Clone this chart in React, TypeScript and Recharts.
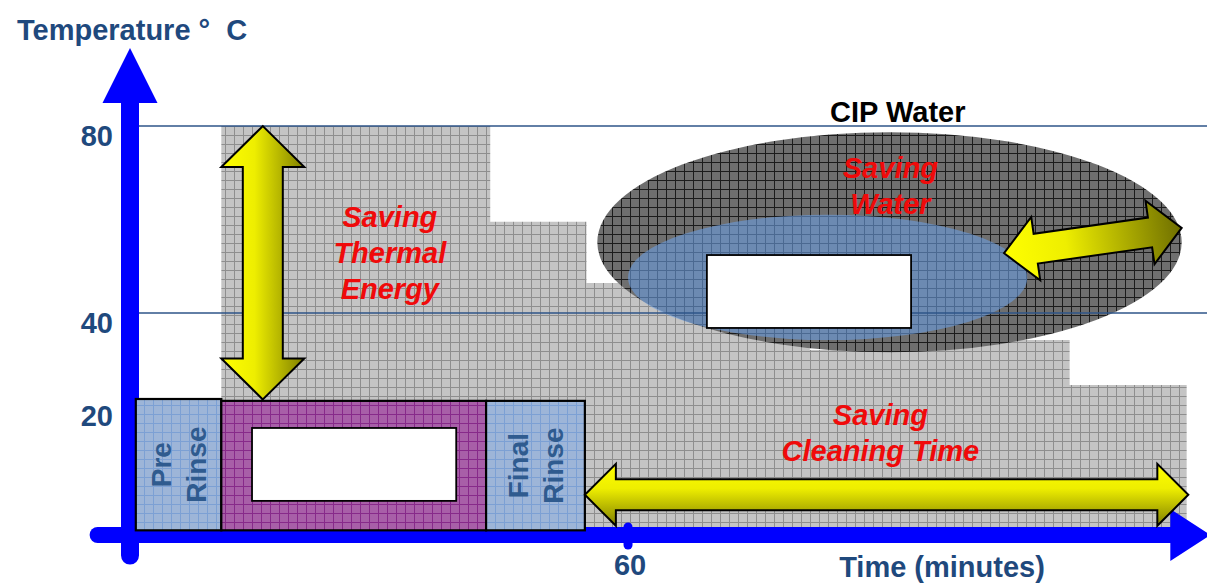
import {
  ComposedChart,
  Area,
  XAxis,
  YAxis,
  ReferenceLine,
  ReferenceArea,
  ReferenceDot,
} from 'recharts';

const FONT = '"Liberation Sans", Arial, sans-serif';
const NAVY = '#1f497d';
const RED = '#f00a0a';

// conventional CIP profile: start minute of each step and its temperature
const stepTimes = [11, 43.4, 55, 81.9, 92.5, 113.2, 127.3];
const stepTemps = [80, 59.5, 46.4, 32.1, 34.2, 24.6, 24.6];

const xTicks = [60];
const yTicks = [20, 40, 80];
const gridTemps = [80, 40];

const xDomain: [number, number] = [0, 129.75];
const yDomain: [number, number] = [-7.5, 96.7];
const baseTemp = -6.5;

// optimised cycle phases
const phaseLabels = [['Pre', 'Rinse'], [], ['Final', 'Rinse']];
const phaseStarts = [0.7, 11, 42.9];
const phaseEnds = [11, 42.9, 54.8];
const phaseTops = [21.6, 21.2, 21.2];
const phaseFills = ['url(#rinseGrid)', 'url(#washGrid)', 'url(#rinseGrid)'];

// empty caption boxes
const blankTimes = [[14.7, 39.3], [69.5, 94.1]];
const blankTemps = [[-0.2, 15.4], [36.8, 52.4]];

// water ellipses
const waterTimes = [56.3, 126.7];
const waterTemps = [31.6, 78.7];
const savedTimes = [60, 108.1];
const savedTemps = [34.2, 61];

// arrows
const thermalTime = 16;
const thermalTemps = [21.5, 80];
const cleaningTimes = [54.8, 127.5];
const cleaningTemp = 1.1;
const waterArrowTimes = [105.3, 126.7];
const waterArrowTemps = [52.8, 58.2];

// red captions
const savingLines = [['Saving', 'Thermal', 'Energy'], ['Saving', 'Water'], ['Saving', 'Cleaning Time']];
const savingTimes = [31.3, 91.6, 90.4];
const savingTemps = [52.8, 67.1, 14.4];

const cipLabel = 'CIP Water';
const cipTime = 92.5;
const cipTemp = 83;

function DoubleArrow(p: any) {
  const { x1, y1, x2, y2, shaft, head, headLen, fill } = p;
  const len = Math.hypot(x2 - x1, y2 - y1);
  const ang = (Math.atan2(y2 - y1, x2 - x1) * 180) / Math.PI;
  const s = shaft / 2;
  const h = head / 2;
  const b = len - headLen;
  const pts = [
    [0, 0], [headLen, -h], [headLen, -s], [b, -s], [b, -h],
    [len, 0], [b, h], [b, s], [headLen, s], [headLen, h],
  ];
  return (
    <polygon
      points={pts.map((q) => q.join(',')).join(' ')}
      transform={`translate(${x1},${y1}) rotate(${ang})`}
      fill={fill}
      stroke="#000"
      strokeWidth={2}
    />
  );
}

function AxisArrow(p: any) {
  const { x1, y1, x2, y2, shaft, head, headLen } = p;
  const len = Math.hypot(x2 - x1, y2 - y1);
  const ang = (Math.atan2(y2 - y1, x2 - x1) * 180) / Math.PI;
  const s = shaft / 2;
  const h = head / 2;
  const b = len - headLen;
  const pts = [[0, -s], [b, -s], [b, -h], [len, 0], [b, h], [b, s], [0, s]];
  return (
    <g transform={`translate(${x1},${y1}) rotate(${ang})`}>
      <circle cx={0} cy={0} r={s} fill="#0000ff" />
      <polygon points={pts.map((q) => q.join(',')).join(' ')} fill="#0000ff" />
    </g>
  );
}

function PhaseBox(p: any) {
  const { x, y, width, height, lines, pattern } = p;
  const cx = x + width / 2;
  const cy = y + height / 2;
  return (
    <g>
      <rect x={x} y={y} width={width} height={height} fill={pattern} stroke="#000" strokeWidth={2.2} />
      {lines.map((l: string, i: number) => {
        const tx = cx + (i - (lines.length - 1) / 2) * 35;
        return (
          <text
            key={l + i}
            x={tx}
            y={cy}
            dy="0.36em"
            transform={`rotate(-90 ${tx} ${cy})`}
            textAnchor="middle"
            fontFamily={FONT}
            fontSize={28}
            fontWeight="bold"
            fill="#2f5b8f"
          >
            {l}
          </text>
        );
      })}
    </g>
  );
}

const caption = (lines: string[], color: string, italic: boolean, lh: number) => (p: any) => (
  <text
    fontFamily={FONT}
    fontSize={29}
    fontWeight="bold"
    fontStyle={italic ? 'italic' : 'normal'}
    fill={color}
    textAnchor="middle"
  >
    {lines.map((l, i) => (
      <tspan key={l} x={p.cx} y={p.cy + (i - (lines.length - 1) / 2) * lh + 10}>
        {l}
      </tspan>
    ))}
  </text>
);

const YTick = (p: any) => (
  <text x={p.x - 9} y={p.y + 20} textAnchor="end" fontFamily={FONT} fontSize={29} fontWeight="bold" fill={NAVY}>
    {p.payload.value}
  </text>
);

const XTick = (p: any) => (
  <g>
    <line x1={p.x} x2={p.x} y1={p.y - 16} y2={p.y + 2} stroke="#0000ff" strokeWidth={9} strokeLinecap="round" />
    <text x={p.x + 2} y={p.y + 32} textAnchor="middle" fontFamily={FONT} fontSize={29} fontWeight="bold" fill={NAVY}>
      {p.payload.value}
    </text>
  </g>
);

function gridPattern(id: string, size: number, bg: string, line: string) {
  return (
    <pattern id={id} width={size} height={size} patternUnits="userSpaceOnUse">
      <rect width={size} height={size} fill={bg} />
      <path d={`M0 0.5H${size}M0.5 0V${size}`} stroke={line} strokeWidth={1} />
    </pattern>
  );
}

export default function App() {
  const data = stepTimes.map((time, i) => ({ time, temp: stepTemps[i] }));

  return (
    <div style={{ position: 'absolute', left: 0, top: 0, width: 1207, height: 584, background: '#fff', fontFamily: FONT }}>
      <ComposedChart width={1207} height={584} data={data} margin={{ top: 48, right: 0, bottom: 19, left: 70 }}>
        <defs>
          {gridPattern('cipGrid', 9, '#c4c4c4', '#8e8e8e')}
          {gridPattern('waterGrid', 9, '#6f6f6f', '#1c1c1c')}
          {gridPattern('rinseGrid', 9, '#9db5d8', '#7ca0d4')}
          {gridPattern('washGrid', 9, '#a85fa8', '#872a8a')}
          <linearGradient id="yellowAcross" x1="0" y1="0" x2="0" y2="1">
            <stop offset="0" stopColor="#ffff00" />
            <stop offset="0.4" stopColor="#eeee00" />
            <stop offset="1" stopColor="#7f7f00" />
          </linearGradient>
          <linearGradient id="yellowAlong" x1="0" y1="0" x2="1" y2="0">
            <stop offset="0" stopColor="#ffff00" />
            <stop offset="0.35" stopColor="#eeee00" />
            <stop offset="1" stopColor="#6e6e00" />
          </linearGradient>
        </defs>

        <XAxis
          dataKey="time"
          type="number"
          domain={xDomain}
          allowDataOverflow
          ticks={xTicks}
          height={30}
          axisLine={false}
          tickLine={false}
          tick={XTick}
        />
        <YAxis
          type="number"
          domain={yDomain}
          allowDataOverflow
          ticks={yTicks}
          width={60}
          axisLine={false}
          tickLine={false}
          tick={YTick}
        />

        <Area
          dataKey="temp"
          type="stepAfter"
          baseValue={baseTemp}
          fill="url(#cipGrid)"
          fillOpacity={1}
          stroke="none"
          dot={false}
          activeDot={false}
          isAnimationActive={false}
        />

        <ReferenceArea
          x1={waterTimes[0]}
          x2={waterTimes[1]}
          y1={waterTemps[0]}
          y2={waterTemps[1]}
          ifOverflow="visible"
          zIndex={110}
          shape={(p: any) => (
            <ellipse cx={p.x + p.width / 2} cy={p.y + p.height / 2} rx={p.width / 2} ry={p.height / 2} fill="url(#waterGrid)" />
          )}
        />
        <ReferenceArea
          x1={savedTimes[0]}
          x2={savedTimes[1]}
          y1={savedTemps[0]}
          y2={savedTemps[1]}
          ifOverflow="visible"
          zIndex={115}
          shape={(p: any) => (
            <ellipse
              cx={p.x + p.width / 2}
              cy={p.y + p.height / 2}
              rx={p.width / 2}
              ry={p.height / 2}
              fill="#6a9de0"
              fillOpacity={0.6}
            />
          )}
        />

        {gridTemps.map((t) => (
          <ReferenceLine key={t} y={t} stroke="#2e5488" strokeWidth={1.5} ifOverflow="visible" zIndex={120} />
        ))}

        <ReferenceLine
          segment={[{ x: xDomain[0], y: yDomain[0] - 4.4 }, { x: xDomain[0], y: yDomain[1] }]}
          ifOverflow="visible"
          zIndex={130}
          shape={(p: any) => <AxisArrow {...p} shaft={18} head={55} headLen={55} />}
        />
        <ReferenceLine
          segment={[{ x: xDomain[0] - 3.9, y: yDomain[0] }, { x: xDomain[1] + 0.4, y: yDomain[0] }]}
          ifOverflow="visible"
          zIndex={131}
          shape={(p: any) => <AxisArrow {...p} shaft={16} head={52} headLen={40} />}
        />

        {phaseStarts.map((start, i) => (
          <ReferenceArea
            key={start}
            x1={start}
            x2={phaseEnds[i]}
            y1={baseTemp}
            y2={phaseTops[i]}
            ifOverflow="visible"
            zIndex={140}
            shape={(p: any) => <PhaseBox {...p} lines={phaseLabels[i]} pattern={phaseFills[i]} />}
          />
        ))}

        {blankTimes.map((tt, i) => (
          <ReferenceArea
            key={tt[0]}
            x1={tt[0]}
            x2={tt[1]}
            y1={blankTemps[i][0]}
            y2={blankTemps[i][1]}
            ifOverflow="visible"
            zIndex={150}
            shape={(p: any) => (
              <rect x={p.x} y={p.y} width={p.width} height={p.height} fill="#fff" stroke="#000" strokeWidth={1.8} />
            )}
          />
        ))}

        <ReferenceLine
          segment={[{ x: thermalTime, y: thermalTemps[0] }, { x: thermalTime, y: thermalTemps[1] }]}
          ifOverflow="visible"
          zIndex={160}
          shape={(p: any) => <DoubleArrow {...p} shaft={40} head={83} headLen={41} fill="url(#yellowAcross)" />}
        />
        <ReferenceLine
          segment={[{ x: cleaningTimes[0], y: cleaningTemp }, { x: cleaningTimes[1], y: cleaningTemp }]}
          ifOverflow="visible"
          zIndex={161}
          shape={(p: any) => <DoubleArrow {...p} shaft={31} head={62} headLen={31} fill="url(#yellowAcross)" />}
        />
        <ReferenceLine
          segment={[{ x: waterArrowTimes[0], y: waterArrowTemps[0] }, { x: waterArrowTimes[1], y: waterArrowTemps[1] }]}
          ifOverflow="visible"
          zIndex={162}
          shape={(p: any) => <DoubleArrow {...p} shaft={30} head={64} headLen={32} fill="url(#yellowAlong)" />}
        />

        {savingLines.map((lines, i) => (
          <ReferenceDot
            key={lines.join(' ')}
            x={savingTimes[i]}
            y={savingTemps[i]}
            r={0}
            ifOverflow="visible"
            zIndex={170}
            shape={caption(lines, RED, true, 36)}
          />
        ))}
        <ReferenceDot
          x={cipTime}
          y={cipTemp}
          r={0}
          ifOverflow="visible"
          zIndex={171}
          shape={caption([cipLabel], '#000', false, 0)}
        />
      </ComposedChart>

      <div
        style={{
          position: 'absolute',
          left: 17,
          top: 13,
          lineHeight: '34px',
          fontSize: 29,
          fontWeight: 'bold',
          color: NAVY,
          whiteSpace: 'pre',
        }}
      >
        {'Temperature °  C'}
      </div>
      <div
        style={{
          position: 'absolute',
          left: 792,
          width: 300,
          top: 550,
          lineHeight: '34px',
          textAlign: 'center',
          fontSize: 29,
          fontWeight: 'bold',
          color: NAVY,
        }}
      >
        Time (minutes)
      </div>
    </div>
  );
}
